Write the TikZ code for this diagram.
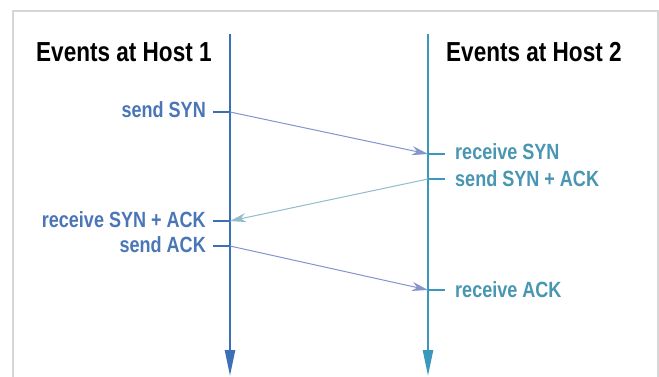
\documentclass[tikz,border=0pt]{standalone}
\usepackage{fontspec}
\setmainfont{Liberation Sans}[FakeStretch=0.82]
\usetikzlibrary{arrows.meta}

\definecolor{hostA}{HTML}{3B6FB6}
\definecolor{hostB}{HTML}{3A98BD}
\definecolor{txtA}{HTML}{4A76B8}
\definecolor{txtB}{HTML}{4896B2}
\definecolor{msgA}{HTML}{8494CE}
\definecolor{msgB}{HTML}{90BCCC}
\definecolor{frame}{HTML}{D6D6D6}

\tikzset{
  timeline/.style={line width=2.4pt, -{Triangle[length=26pt,width=10pt]}},
  tick/.style={line width=1.8pt},
  msg/.style={line width=1pt, -{Stealth[length=16pt,width=9pt,inset=5pt]}},
  title/.style={font=\fontsize{27.5}{32}\selectfont\bfseries, text=black, inner sep=0pt},
  evA/.style={font=\fontsize{22}{26}\selectfont\bfseries, text=txtA, inner sep=0pt, anchor=base east},
  evB/.style={font=\fontsize{22}{26}\selectfont\bfseries, text=txtB, inner sep=0pt, anchor=base west},
}

\begin{document}
\begin{tikzpicture}[x=1pt, y=-1pt]
  \useasboundingbox (0,0) rectangle (659,377);
  \fill[white] (0,0) rectangle (659,377);
  \begin{scope}
    \clip (0,0) rectangle (659,377);
    \draw[frame, line width=2pt] (13,11) rectangle (658,400);
  \end{scope}

  % headings
  \node[title, anchor=base west] (t1) at (36,62) {Events at Host 1};
  \node[title, anchor=base west] (t2) at (446,62) {Events at Host 2};

  % time axes of the two hosts
  \coordinate (a0) at (230,34);
  \coordinate (a1) at (230,376);
  \coordinate (b0) at (428,34);
  \coordinate (b1) at (428,376);
  \draw[timeline, hostA] (a0) -- (a1);
  \draw[timeline, hostB] (b0) -- (b1);

  % event points on each axis
  \coordinate (aSyn)    at (230,112);
  \coordinate (aSynAck) at (230,221);
  \coordinate (aAck)    at (230,246);
  \coordinate (bSyn)    at (428,154);
  \coordinate (bSynAck) at (428,179);
  \coordinate (bAck)    at (428,290);

  % ticks
  \coordinate (aSynT)    at (213,112);
  \coordinate (aSynAckT) at (213,221);
  \coordinate (aAckT)    at (213,246);
  \coordinate (bSynT)    at (445,154);
  \coordinate (bSynAckT) at (445,179);
  \coordinate (bAckT)    at (445,290);
  \draw[tick, hostA] (aSynT) -- (aSyn);
  \draw[tick, hostA] (aSynAckT) -- (aSynAck);
  \draw[tick, hostA] (aAckT) -- (aAck);
  \draw[tick, hostB] (bSynT) -- (bSyn);
  \draw[tick, hostB] (bSynAckT) -- (bSynAck);
  \draw[tick, hostB] (bAckT) -- (bAck);

  % event labels
  \node[evA] (l1) at (206,118) {send SYN};
  \node[evA] (l4) at (206,227) {receive SYN + ACK};
  \node[evA] (l5) at (206,252) {send ACK};
  \node[evB] (l2) at (455,160) {receive SYN};
  \node[evB] (l3) at (455,186) {send SYN + ACK};
  \node[evB] (l6) at (455,297) {receive ACK};

  % messages
  \draw[msg, msgA] (aSyn) -- (bSyn);
  \draw[msg, msgB] (bSynAck) -- (aSynAck);
  \draw[msg, msgA] (aAck) -- (bAck);
\end{tikzpicture}
\end{document}
